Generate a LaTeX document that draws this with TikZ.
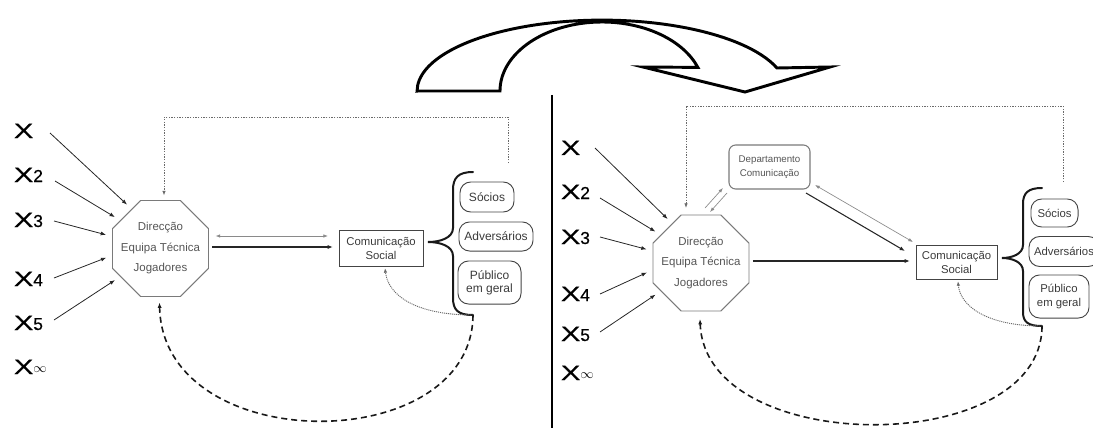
\documentclass[tikz,border=0pt]{standalone}
\usepackage{fontspec}
\usepackage{graphicx}
\setmainfont{Liberation Sans}
\newfontfamily\varfont[FakeBold=0.6]{Liberation Sans}
\usetikzlibrary{shapes.geometric,arrows.meta,calc}

\definecolor{octline}{HTML}{7A7A7A}
\definecolor{octtxt}{HTML}{555555}
\definecolor{boxline}{HTML}{444444}
\definecolor{boxtxt}{HTML}{3A3A3A}
\definecolor{lightarr}{HTML}{8A8A8A}
\definecolor{dotgray}{HTML}{6A6A6A}

% variable label: wide X followed by a smaller index
\newcommand\varX[1]{{\varfont\fontsize{15.5}{17}\selectfont\scalebox{1.4}[1]{X}}{\varfont\fontsize{13}{15}\selectfont #1}}

\begin{document}
\begin{tikzpicture}[x=0.75pt,y=-0.75pt,
  every node/.style={inner sep=0pt,outer sep=0pt},
  tip/.style={-{Latex[length=4pt,width=3pt]}},
  varlabel/.style={anchor=base west},
  octag/.style={draw=octline,line width=0.7pt,regular polygon,regular polygon sides=8,minimum size=77.9pt},
  octtext/.style={align=center,text=octtxt,font=\fontsize{8.6}{15.4}\selectfont},
  csbox/.style={draw=boxline,line width=0.6pt,align=center,text=boxtxt,font=\fontsize{8.5}{10.5}\selectfont},
  deptbox/.style={draw=octline,line width=0.8pt,rounded corners=5pt,align=center,text=octtxt,font=\fontsize{7.3}{10.5}\selectfont},
  audience/.style={draw=boxline,line width=0.7pt,rounded corners=8pt,align=center,text=boxtxt},
  xarr/.style={draw=black!85,line width=0.6pt,shorten >=5pt,tip},
  darkarr/.style={draw=black!85,line width=0.8pt,tip},
  lightdouble/.style={draw=lightarr,line width=0.5pt,{Latex[length=3.5pt,width=2.6pt]}-{Latex[length=3.5pt,width=2.6pt]}},
  lightsingle/.style={draw=lightarr,line width=0.5pt,-{Latex[length=3.5pt,width=2.6pt]}},
  topdot/.style={draw=dotgray,line width=0.6pt,dash pattern=on 1.1pt off 0.9pt,-{Latex[length=3.5pt,width=2.6pt]}},
  finedot/.style={draw=dotgray,line width=0.7pt,dash pattern=on 0.8pt off 0.7pt,-{Latex[length=3.5pt,width=2.6pt]}},
  bigdash/.style={draw=black!90,line width=1.2pt,dash pattern=on 4.5pt off 3pt,-{Latex[length=4pt,width=3pt]}},
  bracepath/.style={draw=black!90,line width=1.5pt,line cap=round}
]
\useasboundingbox (0,0) rectangle (1093,428);
\clip (0,0) rectangle (1093,428);

% ---- curved transition arrow and divider ----
\draw[line width=2.2pt,line join=miter]
  (418,91) -- (500,91)
  arc[start angle=180,end angle=340,x radius=102,y radius=69]
  -- (643,67) -- (745,92) -- (830,67) -- (777,68)
  arc[start angle=341,end angle=180,x radius=185,y radius=71]
  -- cycle;
\draw[line width=0.8pt] (552,95) -- (552,428);

% ================= left model =================
\node[varlabel] (lx1) at (14,138) {\varX{}};
\node[varlabel] (lx2) at (14,182) {\varX{2}};
\node[varlabel] (lx3) at (14,227) {\varX{3}};
\node[varlabel] (lx4) at (14,286) {\varX{4}};
\node[varlabel] (lx5) at (14,330) {\varX{5}};
\node[varlabel] (lx6) at (14,374) {\varX{\raisebox{1pt}{\fontsize{10}{12}\selectfont$\infty$}}};

\node[octag] (octL) at (160.5,248.5) {};
\node[octtext] (octLt) at (octL) {Direcção\\Equipa Técnica\\Jogadores};

\node[csbox,minimum width=63pt,minimum height=27pt] (csL) at (381,248) {Comunicação\\Social};

\node[audience,minimum width=40.5pt,minimum height=22.5pt,font=\fontsize{9}{10}\selectfont] (socL) at (487,197) {Sócios};
\node[audience,minimum width=55.5pt,minimum height=21.8pt,font=\fontsize{9}{10}\selectfont] (advL) at (496,236.5) {Adversários};
\node[audience,minimum width=47.3pt,minimum height=32.3pt,font=\fontsize{9}{10}\selectfont] (pubL) at (489.5,282.5) {Público\\em geral};

\draw[bracepath] (473,172) .. controls (458,172) and (453,178) .. (453,190) -- (453,228)
  .. controls (453,238) and (440,242) .. (428,242)
  .. controls (440,242) and (453,246) .. (453,256) -- (453,298)
  .. controls (453,310) and (458,315) .. (473,315);
\coordinate (brLb) at (473,315);
\coordinate (topL) at (508,163);

\coordinate (a1) at (50,133);
\coordinate (a2) at (55,181);
\coordinate (a3) at (54,221);
\coordinate (a4) at (54,278);
\coordinate (a5) at (54,320);
\draw[xarr] (a1) -- (octL.126);
\draw[xarr] (a2) -- (octL.145);
\draw[xarr] (a3) -- (octL.166);
\draw[xarr] (a4) -- (octL.188);
\draw[xarr] (a5) -- (octL.215);

\draw[lightdouble] ([shift={(7,-12.5)}]octL.east) -- ([shift={(-11,-12)}]csL.west);
\draw[darkarr] ([shift={(4,-1.5)}]octL.east) -- ([shift={(-6,-1)}]csL.west);

\draw[topdot] (topL) -- ++(0,-46) -| ([shift={(3.5,-5)}]octL.north);
\draw[finedot] (brLb) .. controls (415,315) and (388,295) .. ([shift={(4,2)}]csL.south);
\draw[bigdash] (brLb) .. controls (472,458) and (163,458) .. ([shift={(-1,6)}]octL.south);

% ================= right model =================
\node[varlabel] (rx1) at (561,155) {\varX{}};
\node[varlabel] (rx2) at (561,199) {\varX{2}};
\node[varlabel] (rx3) at (561,244) {\varX{3}};
\node[varlabel] (rx4) at (561,301) {\varX{4}};
\node[varlabel] (rx5) at (561,341) {\varX{5}};
\node[varlabel] (rx6) at (561,380) {\varX{\raisebox{1pt}{\fontsize{10}{12}\selectfont$\infty$}}};

\node[octag] (octR) at (701,263) {};
\node[octtext] (octRt) at (octR) {Direcção\\Equipa Técnica\\Jogadores};

\node[deptbox,minimum width=60.75pt,minimum height=33pt] (deptR) at (769.5,167) {Departamento\\Comunicação};
\node[csbox,minimum width=60.75pt,minimum height=25.5pt] (csR) at (956.5,262) {Comunicação\\Social};

\node[audience,minimum width=35.3pt,minimum height=21pt,font=\fontsize{8.5}{10}\selectfont] (socR) at (1054.5,213) {Sócios};
\node[audience,minimum width=52.5pt,minimum height=22.5pt,font=\fontsize{8.5}{10}\selectfont] (advR) at (1064,251.5) {Adversários};
\node[audience,minimum width=45pt,minimum height=32.3pt,font=\fontsize{8.5}{10}\selectfont] (pubR) at (1059,296.5) {Público\\em geral};

\draw[bracepath] (1042,188) .. controls (1028,188) and (1023,193) .. (1023,204) -- (1023,245)
  .. controls (1023,254) and (1012,258) .. (1002,258)
  .. controls (1012,258) and (1023,262) .. (1023,271) -- (1023,312)
  .. controls (1023,322) and (1028,326) .. (1042,326);
\coordinate (brRb) at (1042,326);
\coordinate (topR) at (1063,182);

\coordinate (b1) at (595,148);
\coordinate (b2) at (600,198);
\coordinate (b3) at (600,237);
\coordinate (b4) at (600,294);
\coordinate (b5) at (600,332);
\draw[xarr] (b1) -- (octR.126);
\draw[xarr] (b2) -- (octR.145);
\draw[xarr] (b3) -- (octR.166);
\draw[xarr] (b4) -- (octR.188);
\draw[xarr] (b5) -- (octR.215);

\draw[lightsingle] ([shift={(4,-7)}]octR.north) -- ([shift={(-6,-1)}]deptR.south west);
\draw[lightsingle] ([shift={(-2,4)}]deptR.south west) -- ([shift={(9,-3)}]octR.north);
\draw[lightdouble] ([shift={(5,-4)}]deptR.south east) -- ([shift={(-3,-3)}]csR.north west);
\draw[darkarr] ([shift={(-4,4)}]deptR.south east) -- ([shift={(-11,6)}]csR.north west);
\draw[darkarr] ([shift={(4,-2)}]octR.east) -- ([shift={(-6,-1)}]csR.west);

\draw[topdot] (topR) -- ++(0,-76) -| ([shift={(-15,-7)}]octR.north);
\draw[finedot] (brRb) .. controls (985,326) and (960,305) .. ([shift={(1.5,2)}]csR.south);
\draw[bigdash] (brRb) .. controls (1042,458) and (705,458) .. ([shift={(-1,8)}]octR.south);
\end{tikzpicture}
\end{document}
